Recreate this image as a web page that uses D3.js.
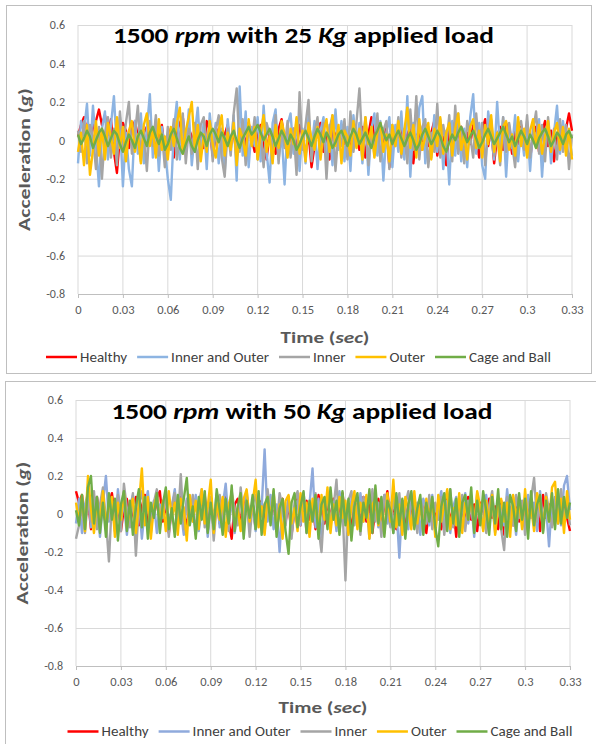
<!DOCTYPE html>
<html>
<head>
<meta charset="utf-8">
<script src="https://cdn.jsdelivr.net/npm/d3@7"></script>
<style>
  body { margin: 0; background: #fff; }
</style>
</head>
<body>
<svg id="chart" width="596" height="744"></svg>
<script>
// ---- data (acceleration in g, one sample every 2 ms from 0 to 0.33 s) ----
const seriesNames = ["Healthy", "Inner and Outer", "Inner", "Outer", "Cage and Ball"];
const loads = [25, 50];
const timeTicks = [0, 0.03, 0.06, 0.09, 0.12, 0.15, 0.18, 0.21, 0.24, 0.27, 0.3, 0.33];
const accelTicks = [-0.8, -0.6, -0.4, -0.2, 0, 0.2, 0.4, 0.6];
const sampleStep = 0.002;

// 25 Kg
const p1Healthy = [0.02,0.08,0.12,0.05,-0.03,0.07,0.1,0.16,0.08,0.13, 0.03,0.11,-0.06,-0.17,0.02,0.09,0.05,-0.04,0.06,0.1,
  0.02,-0.08,0.04,0.07,-0.02,0.05,-0.07,0.03,0.08,-0.05, 0.01,0.06,-0.09,0.04,0.09,0.12,-0.03,0.06,0.02,-0.06,
  0.07,0.03,-0.04,0.1,0.05,-0.08,0.02,0.06,-0.05,0.03, 0.08,-0.03,0.05,-0.09,0.02,0.07,-0.04,0.09,0.01,-0.06,
  0.04,0.08,-0.02,-0.1,0.05,0.03,-0.07,0.06,0.11,-0.01, -0.06,0.03,0.06,-0.05,0.08,0.02,-0.08,0.04,-0.14,-0.03,
  0.05,0.09,-0.06,0.02,-0.1,0.06,0.03,-0.04,0.08,-0.02, 0.04,-0.07,0.1,0.01,-0.05,0.07,-0.09,0.03,0.12,0.02,
  -0.06,0.05,-0.03,0.08,-0.14,0.04,0.06,-0.02,0.09,-0.07, 0.03,0.07,-0.12,0.02,0.05,-0.05,0.08,-0.03,0.04,0.1,
  -0.08,0.02,0.06,-0.13,0.05,0.09,-0.04,0.03,0.07,-0.06, 0.04,-0.02,0.08,0.01,-0.09,0.05,0.11,-0.03,0.06,-0.12,
  0.02,0.07,-0.05,0.09,0.03,-0.07,0.05,-0.02,0.08,-0.04, 0.06,-0.1,0.03,0.07,-0.06,0.04,0.1,-0.03,0.05,-0.11,
  0.02,0.08,-0.04,0.06,0.14,0.05];
const p1InnerOuter = [-0.12,0.1,0.05,0.19,-0.08,0.18,-0.02,-0.24,0.06,0.15, -0.1,0.08,0.23,-0.05,0.12,-0.24,0.04,-0.15,-0.24,0.1,
  -0.07,0.14,-0.12,0.06,0.24,-0.09,0.11,-0.16,0.07,-0.04, -0.2,-0.31,0.05,0.2,-0.1,0.12,-0.06,0.16,-0.13,0.03,
  0.17,-0.08,0.1,-0.15,0.14,-0.02,0.09,-0.12,0.06,-0.17, 0.11,-0.05,0.13,-0.21,0.28,-0.08,0.15,-0.14,0.07,-0.03,
  0.12,-0.11,0.18,-0.06,-0.22,0.09,0.16,-0.1,0.04,-0.23, 0.08,0.14,-0.07,0.11,-0.16,0.06,-0.12,0.13,-0.04,0.1,
  -0.15,0.05,0.12,-0.09,0.08,-0.13,0.16,-0.05,0.1,-0.11, 0.07,-0.16,0.13,-0.03,0.09,-0.12,0.11,-0.18,0.06,0.14,
  -0.08,0.1,-0.21,0.04,0.12,-0.14,0.08,-0.06,0.15,-0.1, 0.23,-0.19,0.09,-0.04,0.17,0.23,-0.12,0.07,-0.09,0.13,
  -0.06,0.11,-0.15,0.05,-0.23,0.1,-0.08,0.14,-0.11,0.06, -0.14,0.12,0.24,-0.07,0.09,-0.13,-0.2,0.15,0.03,-0.1,
  0.2,-0.05,0.12,-0.19,0.08,-0.04,0.13,-0.11,0.06,-0.08, 0.1,-0.16,0.07,-0.02,0.11,-0.19,0.05,0.09,-0.12,0.04,
  0.18,-0.07,0.1,-0.05,0.03,-0.08];
const p1Inner = [0.05,-0.06,0.1,-0.12,0.08,0.02,-0.15,0.07,-0.2,0.04, 0.12,-0.09,0.06,-0.13,0.15,-0.04,0.09,0.2,-0.07,0.03,
  0.18,-0.11,0.05,-0.16,0.1,-0.03,0.13,-0.08,0.04,-0.14, 0.07,-0.05,0.11,-0.1,0.02,0.14,-0.12,0.06,-0.07,0.09,
  -0.15,0.08,0.12,-0.04,0.1,-0.11,0.05,0.13,-0.09,-0.19, 0.06,-0.08,0.14,0.27,-0.06,0.11,-0.13,0.08,-0.02,0.12,
  -0.1,0.05,-0.14,0.09,0.03,-0.07,0.13,-0.12,0.07,-0.04, 0.1,-0.09,0.06,-0.18,0.25,-0.05,0.08,0.21,-0.11,0.04,
  0.12,-0.08,0.09,-0.2,0.06,0.13,-0.16,0.05,-0.03,0.11, -0.1,0.15,-0.06,0.09,0.27,-0.04,0.12,-0.13,0.07,-0.08,
  0.14,-0.11,0.05,0.1,-0.15,0.08,-0.03,0.12,-0.09,0.06, -0.12,0.16,-0.05,0.23,-0.1,0.07,0.11,-0.14,0.04,-0.06,
  0.19,-0.09,0.08,-0.03,0.13,-0.11,0.18,-0.07,0.05,-0.12, 0.1,0.02,-0.09,0.14,-0.04,0.09,-0.13,0.06,0.11,-0.08,
  0.04,-0.13,0.12,-0.06,0.09,-0.02,-0.14,0.07,0.1,-0.05, 0.13,-0.09,0.05,0.15,-0.07,0.08,-0.11,0.12,-0.04,0.06,
  -0.1,0.11,-0.06,0.08,-0.15,0.03];
const p1Outer = [-0.06,0.04,-0.13,0.08,-0.18,-0.05,0.1,-0.08,0.06,-0.1, 0.09,0.02,-0.07,0.12,-0.04,0.07,-0.11,0.05,0.1,-0.06,
  0.03,-0.12,0.08,0.14,-0.03,0.06,-0.09,0.11,-0.05,0.02, -0.1,0.07,-0.03,0.09,0.17,-0.07,0.05,0.12,0.2,-0.04,
  0.08,-0.11,0.03,-0.06,0.1,-0.02,-0.09,0.05,0.13,-0.08, 0.04,-0.05,0.09,-0.13,0.06,0.01,-0.08,0.11,-0.03,0.07,
  -0.1,0.04,0.13,-0.06,0.02,-0.12,0.08,-0.04,0.1,0.03, -0.09,0.06,-0.02,0.12,-0.07,0.05,-0.11,0.09,0.01,-0.05,
  0.07,-0.1,0.04,0.11,-0.06,0.13,-0.03,0.08,-0.12,0.05, 0.02,-0.08,0.1,-0.04,0.06,-0.1,0.12,-0.02,0.07,-0.09,
  0.04,0.09,-0.06,0.03,-0.11,0.08,-0.03,0.1,-0.07,0.05, 0.17,-0.04,0.08,-0.09,0.11,-0.05,0.02,0.09,-0.1,0.06,
  -0.03,0.12,-0.07,0.04,0.09,-0.08,0.06,0.14,-0.05,0.03, -0.1,0.07,0.11,-0.04,0.05,-0.09,0.08,-0.02,0.13,-0.06,
  0.04,-0.11,0.07,0.1,-0.05,0.03,-0.08,0.12,-0.03,0.06, -0.09,0.05,0.11,-0.04,0.08,-0.07,0.02,0.1,-0.06,0.04,
  0.09,-0.05,0.07,-0.08,0.06,-0.1];
const p1CageBall = [0.03,-0.02,0.01,0.05,0.02,-0.04,0,0.04,0.06,0.02, -0.03,0.01,0.05,0.03,-0.02,-0.06,-0.01,0.03,0,-0.04,
  0.02,0.05,0.01,-0.03,0.04,0.07,0.02,-0.02,0.03,-0.05, -0.02,0.03,0.06,0.01,-0.04,-0.07,-0.02,0.02,-0.03,-0.06,
  0,0.04,0.02,-0.03,0.03,0.06,0.03,-0.01,0.04,0.01, -0.03,0.02,0.05,0,-0.04,0.01,0.04,0.07,0.03,0.05,
  0.08,0.04,0,0.03,0.06,0.02,-0.03,0.01,0.05,0.02, -0.02,0.03,0,-0.05,-0.02,0.02,0.05,0.01,-0.03,0.02,
  0.06,0.03,-0.01,0.04,0.01,-0.04,-0.01,0.03,0.05,0.01, -0.03,0.02,0.06,0.03,-0.02,0.01,0.04,0,-0.04,0.02,
  0.05,0.09,0.04,0,0.03,-0.02,0.02,0.05,0.01,-0.03, 0.01,0.04,0,-0.05,-0.02,0.03,0.06,0.02,-0.02,0.01,
  0.05,0.02,-0.03,-0.06,-0.01,0.03,0,0.04,0.07,0.03, -0.01,0.02,0.05,0.01,-0.04,-0.01,0.03,0.06,0.02,-0.02,
  0.01,0.04,0.07,0.03,-0.01,0.02,-0.03,0.01,0.05,0.02, -0.02,0.03,0,-0.04,0.01,0.04,0.06,0.02,-0.03,0,
  0.04,0.02,-0.02,0.03,0.05,0.01];

// 50 Kg
const p2Healthy = [0.12,0.06,0.1,-0.05,0.08,-0.08,0.04,0.09,-0.03,0.06, -0.07,0.05,0.11,-0.02,0.07,-0.09,0.03,0.08,-0.05,0.02,
  0.09,-0.06,0.04,0.1,-0.08,0.05,-0.02,0.08,0.12,-0.04, 0.06,-0.1,0.03,0.07,-0.05,0.09,0.02,-0.07,0.05,-0.03,
  0.08,-0.06,0.04,0.1,-0.09,0.06,-0.02,0.07,-0.05,0.03, 0.09,-0.04,-0.13,0.05,0.08,-0.06,0.02,0.1,-0.03,0.06,
  -0.08,0.04,0.07,-0.05,0.11,-0.02,0.06,-0.09,0.03,0.08, -0.04,0.05,-0.11,0.02,0.09,-0.06,0.04,0.07,-0.03,0.05,
  -0.08,0.1,0.03,-0.05,0.06,-0.02,0.08,-0.07,0.04,0.11, -0.03,0.05,-0.09,0.07,0.02,-0.06,0.09,-0.04,0.06,-0.1,
  0.03,0.08,-0.05,0.04,0.12,-0.03,0.06,-0.08,0.02,0.07, -0.06,0.05,-0.02,0.09,-0.07,0.04,0.06,-0.1,0.03,0.08,
  -0.04,0.06,-0.08,0.02,0.1,-0.05,0.04,-0.12,0.07,0.03, -0.06,0.09,-0.03,0.05,-0.09,0.06,0.02,-0.05,0.08,-0.02,
  0.04,-0.08,0.07,-0.11,0.05,0.03,-0.06,0.09,-0.04,0.06, -0.07,0.04,0.08,-0.03,0.06,-0.09,0.1,-0.02,0.05,-0.06,
  0.07,-0.04,0.09,0.03,-0.02,-0.09];
const p2InnerOuter = [-0.05,0.08,-0.1,0.05,0.11,-0.07,0.03,0.09,-0.12,0.06, 0.2,-0.04,0.07,-0.09,0.13,-0.02,0.06,-0.11,0.04,0.1,
  -0.06,0.08,-0.13,0.03,0.12,-0.05,0.07,-0.1,0.05,-0.02, 0.09,-0.08,0.04,0.13,-0.06,0.02,-0.11,0.08,0.05,-0.04,
  0.1,-0.09,0.03,0.07,-0.12,0.06,-0.03,0.11,-0.07,0.04, 0.16,-0.05,0.08,-0.1,0.02,0.09,-0.06,0.12,-0.03,0.05,
  -0.09,0.07,0.03,0.34,-0.04,0.1,-0.08,0.05,-0.2,0.06, -0.03,0.09,-0.11,0.04,0.07,-0.06,0.11,-0.02,0.05,0.24,
  -0.07,0.08,-0.12,0.03,0.1,-0.05,0.06,-0.09,0.12,-0.03, 0.05,-0.1,0.08,0.02,-0.06,0.11,-0.04,0.07,-0.13,0.05,
  0.09,-0.07,0.03,0.1,-0.05,0.06,-0.1,0.04,-0.23,0.07, 0.02,-0.08,0.11,-0.04,0.06,-0.11,0.08,0.03,-0.06,0.1,
  -0.09,0.05,0.12,-0.03,0.07,-0.1,0.04,0.09,-0.07,0.02, 0.11,-0.05,0.06,-0.12,0.08,0.03,-0.08,0.1,-0.04,0.06,
  -0.1,0.07,0.02,-0.06,0.13,-0.03,0.05,-0.11,0.08,0.04, -0.07,0.1,-0.02,0.06,-0.09,0.12,-0.05,0.04,-0.17,0.08,
  0.03,0.11,-0.06,0.15,0.2,0.02];
const p2Inner = [-0.13,-0.06,0.04,-0.1,0.09,-0.04,0.12,-0.08,0.05,0.14, -0.03,-0.25,0.07,-0.05,0.1,-0.09,0.16,0.03,-0.07,0.11,
  -0.22,0.05,0.12,-0.04,0.08,-0.1,0.06,0.13,-0.06,0.02, 0.09,-0.12,0.04,0.11,-0.05,0.21,-0.08,0.07,-0.03,0.1,
  -0.11,0.06,0.13,-0.07,0.03,0.09,-0.14,0.05,0.1,-0.04, 0.07,-0.09,0.12,0.02,-0.06,0.14,-0.03,0.08,-0.12,0.05,
  0.1,-0.05,0.04,-0.1,0.13,-0.02,0.07,-0.08,0.11,0.03, -0.06,0.09,-0.13,0.06,0.12,-0.04,0.08,-0.1,0.05,-0.02,
  0.11,-0.07,-0.2,0.06,0.1,-0.05,0.03,0.18,-0.09,0.04, -0.35,0.07,0.12,-0.06,0.05,-0.11,0.09,0.02,-0.08,0.13,
  -0.04,0.06,-0.12,0.1,0.03,-0.07,0.08,-0.03,0.11,-0.09, 0.05,0.12,-0.06,0.04,-0.1,0.08,0.02,-0.05,0.1,-0.08,
  0.06,-0.03,0.09,-0.11,0.05,0.13,-0.07,0.03,-0.04,0.1, -0.09,0.07,0.02,-0.06,0.11,-0.03,0.08,-0.1,0.04,0.12,
  -0.05,0.06,-0.08,-0.19,0.09,0.03,-0.06,0.1,-0.02,0.07, -0.11,0.05,0.08,0.19,-0.04,0.06,-0.09,0.11,0.02,-0.07,
  0.09,-0.05,0.13,-0.03,0.07,-0.06];
const p2Outer = [0.06,-0.04,0.1,-0.09,0.2,0.03,-0.1,0.07,-0.05,0.12, -0.08,0.04,0.09,-0.12,0.06,-0.03,0.11,-0.07,0.02,0.08,
  -0.1,0.05,0.24,-0.06,0.09,-0.13,0.04,0.1,-0.05,0.07, -0.09,0.12,-0.02,0.06,-0.11,0.08,0.03,-0.14,0.1,-0.04,
  0.07,-0.08,0.13,-0.05,0.04,0.18,-0.1,0.06,-0.03,0.09, -0.12,0.05,0.11,-0.06,0.03,-0.09,0.08,0.13,-0.04,0.06,
  0.18,-0.07,0.04,-0.11,0.09,-0.02,0.12,-0.08,0.05,-0.13, 0.07,0.1,-0.05,0.03,-0.09,0.11,-0.04,0.06,-0.12,0.08,
  0.02,-0.07,0.1,-0.03,0.14,-0.1,0.05,-0.06,0.09,-0.02, 0.07,-0.11,0.04,0.12,-0.08,0.06,-0.04,0.1,-0.13,0.05,
  0.08,-0.06,0.03,-0.1,0.11,-0.04,0.18,-0.07,0.05,-0.11, 0.09,0.02,-0.08,0.12,-0.05,0.06,-0.1,0.08,-0.02,0.07,
  -0.12,0.1,-0.04,0.05,0.13,-0.08,0.03,-0.06,0.11,-0.1, 0.06,-0.03,0.09,-0.07,0.12,0.04,-0.09,0.07,-0.05,0.1,
  -0.11,0.05,0.08,-0.04,0.06,-0.12,0.1,-0.02,0.07,-0.08, 0.13,-0.06,0.04,-0.09,0.11,0.03,-0.07,0.09,-0.04,0.14,
  0.17,-0.05,0.08,-0.1,0.12,-0.03];
const p2CageBall = [0.02,-0.06,0.1,-0.08,0.14,0.2,-0.05,0.09,-0.1,0.06, -0.12,0.11,-0.03,0.08,-0.14,0.05,0.12,-0.09,0.07,-0.11,
  0.04,0.13,-0.07,0.09,-0.13,0.06,-0.02,0.11,-0.1,0.05, 0.14,-0.08,0.03,-0.12,0.1,-0.05,0.08,0.19,-0.06,0.04,
  -0.13,0.09,-0.03,0.12,-0.1,0.06,-0.08,0.13,0.02,-0.11, 0.08,-0.05,0.15,-0.09,0.04,0.11,-0.13,0.07,-0.02,0.1,
  -0.08,0.12,-0.11,0.05,0.09,-0.06,0.13,-0.12,0.03,0.08, -0.09,-0.21,0.06,0.11,-0.07,0.04,0.12,-0.1,0.07,-0.04,
  0.1,-0.13,0.05,0.09,-0.08,0.14,-0.03,0.07,-0.11,0.12, -0.06,0.08,-0.14,0.04,0.11,-0.09,0.06,-0.02,0.13,-0.1,
  0.15,-0.05,0.09,-0.12,0.07,0.02,-0.1,0.11,-0.06,0.08, -0.13,0.05,0.12,-0.08,0.03,0.1,-0.11,0.06,-0.04,0.09,
  -0.07,-0.17,0.04,0.11,-0.09,0.13,-0.05,0.08,-0.12,0.06, 0.1,-0.03,0.14,-0.1,0.07,-0.06,0.12,0.02,-0.11,0.09,
  -0.05,0.13,-0.08,0.06,-0.12,0.1,0.04,-0.09,0.11,-0.03, 0.08,-0.13,0.12,-0.06,0.05,0.1,-0.1,0.07,-0.04,0.11,
  -0.08,0.13,-0.05,0.09,-0.02,0.06];

const panel1Colors = ["#ff0000", "#8db4e2", "#a5a5a5", "#ffc000", "#70ad47"];
const panel2Colors = ["#ff0000", "#8faadc", "#a5a5a5", "#ffc000", "#70ad47"];

// ---- layout ----
const font = "Carlito, Lato, sans-serif";
const svg = d3.select("#chart");

const panels = [
  { series: [p1Healthy, p1InnerOuter, p1Inner, p1Outer, p1CageBall], colors: panel1Colors, load: loads[0],
    box: [6.5, 5.5, 585, 368], left: 78, right: 572, top: 25, bottom: 294,
    titleX: 303.5, titleY: 43, yTitleX: 24, xTitleY: 343, legendY: 357, legendCx: 298.5 },
  { series: [p2Healthy, p2InnerOuter, p2Inner, p2Outer, p2CageBall], colors: panel2Colors, load: loads[1],
    box: [5.5, 381.5, 640, 400], left: 76, right: 570, top: 400, bottom: 666,
    titleX: 302, titleY: 419, yTitleX: 22.5, xTitleY: 713, legendY: 731.5, legendCx: 320 }
];

// widths of the texts in the reference picture (it is wider than the fallback font)
const titleWidth = 381, xTitleWidth = 89, yTitleWidth = 143, legendTextWidth = 295;

const fmt = d => String(+d.toFixed(2));

// place a text at (cx, cy) and stretch it horizontally to a given width
function fitText(sel, cx, cy, width, extra) {
  const w = sel.node().getComputedTextLength();
  sel.attr("x", 0).attr("y", 0)
    .attr("transform", `translate(${cx},${cy}) ${extra || ""} scale(${width / w},1)`);
}

function drawPanel(p) {
  const g = svg.append("g");

  g.append("rect")
    .attr("x", p.box[0]).attr("y", p.box[1])
    .attr("width", p.box[2]).attr("height", p.box[3])
    .attr("fill", "#fff").attr("stroke", "#bfbfbf");

  const x = d3.scaleLinear().domain([0, 0.33]).range([p.left, p.right]);
  const y = d3.scaleLinear().domain([-0.8, 0.6]).range([p.bottom, p.top]);

  // horizontal gridlines + y labels
  g.append("g")
    .attr("transform", `translate(${p.left},0)`)
    .call(d3.axisLeft(y).tickValues(accelTicks).tickSize(-(p.right - p.left)).tickPadding(13).tickFormat(fmt))
    .attr("font-family", font).attr("font-size", 12)
    .call(s => s.select(".domain").remove())
    .call(s => s.selectAll("line").attr("stroke", "#d9d9d9"))
    .call(s => s.selectAll("text").attr("fill", "#595959"));

  // vertical gridlines
  g.append("g").selectAll("line")
    .data(timeTicks)
    .join("line")
    .attr("x1", d => x(d)).attr("x2", d => x(d))
    .attr("y1", p.top).attr("y2", p.bottom)
    .attr("stroke", "#d9d9d9");

  // x axis
  g.append("g")
    .attr("transform", `translate(0,${p.bottom})`)
    .call(d3.axisBottom(x).tickValues(timeTicks).tickSize(4).tickPadding(7).tickFormat(fmt).tickSizeOuter(0))
    .attr("font-family", font).attr("font-size", 12.5)
    .call(s => s.select(".domain").attr("stroke", "#bfbfbf"))
    .call(s => s.selectAll("line").attr("stroke", "#bfbfbf"))
    .call(s => s.selectAll("text").attr("fill", "#595959"));

  // series
  const line = d3.line()
    .x((d, i) => x(i * sampleStep))
    .y(d => y(d));

  g.append("g").selectAll("path")
    .data(p.series)
    .join("path")
    .attr("d", line)
    .attr("fill", "none")
    .attr("stroke", (d, i) => p.colors[i])
    .attr("stroke-width", 2.4)
    .attr("stroke-linejoin", "round");

  // title
  const title = g.append("text")
    .attr("text-anchor", "middle")
    .attr("font-family", font).attr("font-size", 21.5).attr("font-weight", "bold")
    .attr("fill", "#000");
  [["1500 ", false], ["rpm", true], [` with ${p.load} `, false], ["Kg", true], [" applied load", false]]
    .forEach(([t, it]) => title.append("tspan").attr("font-style", it ? "italic" : "normal").text(t));
  fitText(title, p.titleX, p.titleY, titleWidth);

  // axis titles
  const yt = g.append("text")
    .attr("text-anchor", "middle").attr("dy", "0.35em")
    .attr("font-family", font).attr("font-size", 16.5).attr("font-weight", "bold")
    .attr("fill", "#595959");
  yt.append("tspan").text("Acceleration (");
  yt.append("tspan").attr("font-style", "italic").text("g");
  yt.append("tspan").text(")");
  fitText(yt, p.yTitleX, (p.top + p.bottom) / 2, yTitleWidth, "rotate(-90)");

  const xt = g.append("text")
    .attr("text-anchor", "middle")
    .attr("font-family", font).attr("font-size", 16.5).attr("font-weight", "bold")
    .attr("fill", "#595959");
  xt.append("tspan").text("Time (");
  xt.append("tspan").attr("font-style", "italic").text("sec");
  xt.append("tspan").text(")");
  fitText(xt, (p.left + p.right) / 2, p.xTitleY, xTitleWidth);

  // legend
  const items = g.append("g").selectAll("g")
    .data(seriesNames)
    .join("g");
  items.append("line")
    .attr("x1", 0).attr("x2", 31)
    .attr("y1", p.legendY).attr("y2", p.legendY)
    .attr("stroke", (d, i) => p.colors[i]).attr("stroke-width", 2.5);
  const labels = items.append("text")
    .attr("dy", "0.35em")
    .attr("font-family", font).attr("font-size", 14)
    .attr("fill", "#404040")
    .text(d => d);
  const widths = labels.nodes().map(n => n.getComputedTextLength());
  const sx = legendTextWidth / d3.sum(widths);
  labels.attr("transform", `translate(34,${p.legendY}) scale(${sx},1)`);
  let pos = 0;
  const offsets = widths.map(w => { const o = pos; pos += 34 + w * sx + 10; return o; });
  const start = p.legendCx - (pos - 10) / 2;
  items.attr("transform", (d, i) => `translate(${start + offsets[i]},0)`);
}

panels.forEach(drawPanel);
</script>
</body>
</html>
